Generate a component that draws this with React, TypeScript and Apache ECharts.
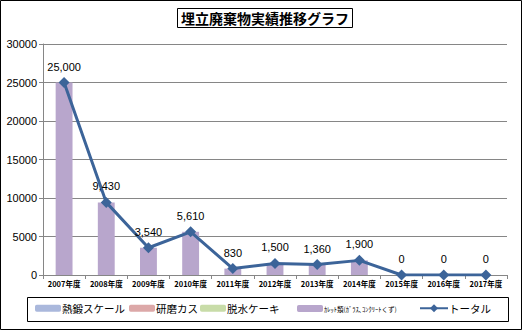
import React, { useEffect, useRef } from "react";
import * as echarts from "echarts";

const categories = ["2007年度", "2008年度", "2009年度", "2010年度", "2011年度", "2012年度", "2013年度", "2014年度", "2015年度", "2016年度", "2017年度"];
const netsutan = [0, 0, 0, 0, 0, 0, 0, 0, 0, 0, 0];
const kenmakasu = [0, 0, 0, 0, 0, 0, 0, 0, 0, 0, 0];
const dassui = [0, 0, 0, 0, 0, 0, 0, 0, 0, 0, 0];
const cullet = [25000, 9430, 3540, 5610, 830, 1500, 1360, 1900, 0, 0, 0];
const total = [25000, 9430, 3540, 5610, 830, 1500, 1360, 1900, 0, 0, 0];
const yTicks = [0, 5000, 10000, 15000, 20000, 25000, 30000];

const names = ["熱鍛スケール", "研磨カス", "脱水ケーキ", "ｶﾚｯﾄ類(ｶﾞﾗｽ､ｺﾝｸﾘｰﾄくず)", "トータル"];
const colors = ["#aab8dc", "#dca8a8", "#c8dca8", "#b8a6cc", "#3c6499"];

const CJK = '"Noto Sans CJK JP", "Liberation Sans", sans-serif';

export default function App() {
  const ref = useRef<HTMLDivElement>(null);
  useEffect(() => {
    document.body.style.margin = "0";
    const chart = echarts.init(ref.current!, null, { renderer: "svg" });
    const legendLefts = [35, 129, 200, 297, 419];
    const legendFont = [10.5, 10.5, 10.5, 6.5, 10.5];
    const legendTops = [303, 303, 303, 305, 303];
    const barSeries = [netsutan, kenmakasu, dassui, cullet].map((d, i) => ({
      name: names[i],
      type: "bar",
      stack: "s",
      barWidth: "40%",
      data: d,
      itemStyle: { color: colors[i] },
    }));
    chart.setOption({
      animation: false,
      backgroundColor: "#ffffff",
      title: {
        text: "埋立廃棄物実績推移グラフ",
        left: 177,
        top: 8,
        padding: [3, 4, 3, 4],
        borderColor: "#000",
        borderWidth: 1,
        textStyle: { fontFamily: CJK, fontSize: 14, fontWeight: "bold", color: "#000" },
      },
      legend: names.map((n, i) => ({
        data: [n],
        left: legendLefts[i],
        top: legendTops[i],
        padding: 0,
        itemWidth: i === 4 ? 28 : 26,
        itemHeight: i === 4 ? 10 : 7,
        itemGap: 2,
        selectedMode: false,
        textStyle: { fontFamily: CJK, fontSize: legendFont[i], color: "#000", padding: [0, 0, 0, -4] },
      })),
      grid: { left: 43, right: 18, top: 44, bottom: 57, containLabel: false },
      xAxis: {
        type: "category",
        data: categories,
        boundaryGap: true,
        axisLine: { lineStyle: { color: "#868686" } },
        axisTick: { show: true, length: 4, lineStyle: { color: "#868686" } },
        axisLabel: { fontFamily: CJK, fontSize: 7.5, fontWeight: "bold", color: "#000", margin: 5, interval: 0 },
      },
      yAxis: {
        type: "value",
        min: yTicks[0],
        max: yTicks[yTicks.length - 1],
        interval: 5000,
        axisLine: { show: true, lineStyle: { color: "#868686" } },
        axisTick: { show: true, length: 4, lineStyle: { color: "#868686" } },
        splitLine: { lineStyle: { color: "#868686" } },
        axisLabel: {
          fontFamily: '"Liberation Sans", sans-serif',
          fontSize: 11,
          color: "#000",
          margin: 6,
          formatter: (v: number) => String(v),
        },
      },
      series: [
        ...barSeries,
        {
          name: names[4],
          type: "line",
          data: total,
          symbol: "diamond",
          symbolSize: 11,
          lineStyle: { color: colors[4], width: 3 },
          itemStyle: { color: colors[4] },
          label: {
            show: true,
            position: "top",
            fontFamily: '"Liberation Sans", sans-serif',
            fontSize: 11,
            color: "#000",
            formatter: (p: any) => Number(p.value).toLocaleString("en-US"),
          },
          z: 5,
        },
      ],
      graphic: [
        { type: "rect", shape: { x: 0.5, y: 0.5, width: 521, height: 329 }, style: { fill: "none", stroke: "#000", lineWidth: 1 }, silent: true },
        { type: "rect", shape: { x: 27.5, y: 297.5, width: 481, height: 24 }, style: { fill: "none", stroke: "#000", lineWidth: 1 }, silent: true },
      ],
    });
    return () => chart.dispose();
  }, []);
  return <div ref={ref} style={{ width: 525, height: 332 }} />;
}
